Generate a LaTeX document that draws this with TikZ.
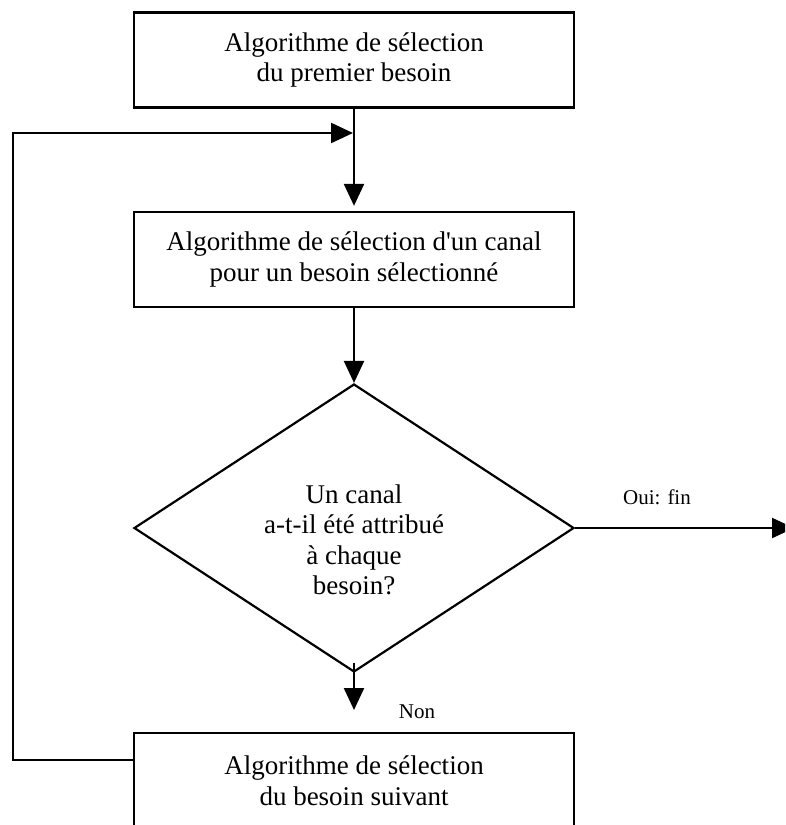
\documentclass[tikz,border=0pt]{standalone}
\usepackage{fontspec}
% plain family: keeps the straight apostrophe as typed
\newfontfamily\diagfont{Liberation Serif}
\usetikzlibrary{arrows.meta,shapes.geometric}

\tikzset{
  x=1pt, y=1pt,
  stepbox/.style={draw, line width=2.3pt, minimum width=440pt, minimum height=95pt,
    inner sep=0pt, align=center, font=\diagfont\fontsize{27}{30.5}\selectfont},
  decision/.style={draw, diamond, line width=2.2pt, minimum width=440pt,
    minimum height=288pt, inner sep=0pt, aspect=1.5},
  qtext/.style={align=center, inner sep=0pt, font=\diagfont\fontsize{27}{30.5}\selectfont},
  lbl/.style={inner sep=0pt, font=\diagfont\fontsize{21}{24}\selectfont},
  flow/.style={line width=2.3pt, -{Triangle[length=22pt,width=20pt]}},
}

\begin{document}
\begin{tikzpicture}
  \clip (0,0) rectangle (785,-825);

  % process steps
  \node[stepbox] (b1) at (354,-60) {Algorithme de sélection\\du premier besoin};
  \node[stepbox] (b2) at (354,-259.5) {Algorithme de sélection d'un canal\\pour un besoin sélectionné};
  \node[decision] (d) at (354,-528) {};
  \node[qtext] (dq) at (354,-540) {Un canal\\a-t-il été attribué\\à chaque\\besoin?};
  \node[stepbox, anchor=north] (b3) at (354,-732) {Algorithme de sélection\\du besoin suivant};

  % free ends of connectors
  \coordinate (merge) at (354,-133);
  \coordinate (lc) at (13,-133);
  \coordinate (nonend) at (354,-710);
  \coordinate (fin) at (794,-528);

  % connectors
  \draw[flow, shorten >=5pt] (b1.south) -- (b2.north);
  \draw[flow] (b2.south) -- (d.north);
  \draw[flow] ([yshift=10pt]d.south) -- (nonend);
  \draw[flow] (d.east) -- (fin);
  \draw[flow, shorten >=1pt] ([yshift=-28pt]b3.north west) -| (lc) -- (merge);

  % branch labels
  \node[lbl] (oui) at (657,-497) {Oui: fin};
  \node[lbl] (non) at (417,-712) {Non};
\end{tikzpicture}
\end{document}
